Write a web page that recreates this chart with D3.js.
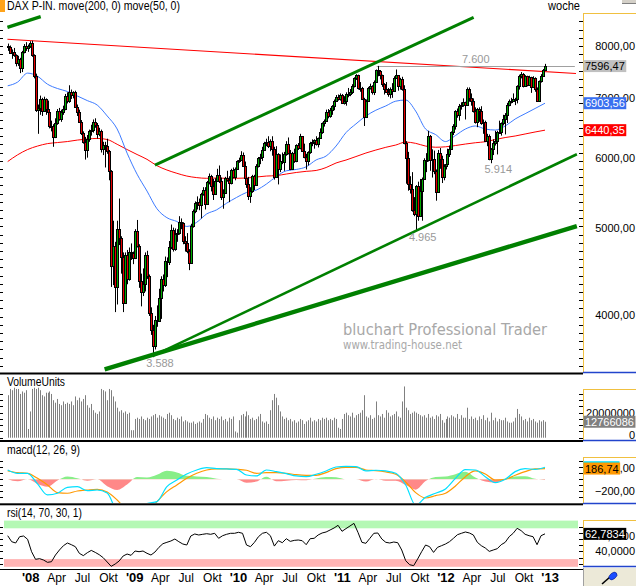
<!DOCTYPE html>
<html>
<head>
<meta charset="utf-8">
<script src="https://cdn.jsdelivr.net/npm/d3@7"></script>
<style>
  body { margin: 0; background: #fff; }
  svg { display: block; font-family: "Liberation Sans", Arial, sans-serif; }
</style>
</head>
<body>
<svg id="chart" width="636" height="586"></svg>
<script>
// weekly DAX candles, Oct 12 2007 .. Dec 14 2012 (one value per Friday)
var opens = [
  7990,7979,7860,7880,7810,7650,7740,7560,7870,8010,7950,8000,
  8067,7810,7410,6790,6820,6970,6770,6970,6810,6750,6510,6510,6320,6560,6770,6630,6750,6810,7040,6940,7100,7050,7100,6840,6750,6580,6390,6250,6120,6300,6420,6450,6580,6520,6370,6420,6130,6200,6190,6110,5800,4544,4780,4300,4990,4880,4640,4130,4670,4390,4700,4690,
  4630,4970,4784,4367,4240,4338,4666,4427,4018,3844,3695,3953,3940,4177,4384,4324,4597,4586,4770,4985,4738,4930,4941,5077,5070,4839,4820,4716,4576,5028,5229,5332,5355,5309,5462,5517,5328,5634,5717,5581,5468,5656,5737,5654,5415,5484,5687,5663,5614,5817,5710,5831,
  5946,5957,6037,5875,5695,5608,5434,5500,5722,5598,5877,5995,6017,6120,6236,6250,6180,6259,6135,5715,6056,5830,5946,5938,6049,6216,6070,5834,6066,5955,6194,6148,6336,6111,6006,5951,6081,6224,6243,6274,6212,6308,6402,6556,6601,6754,6683,6792,6848,6947,7006,6982,7057,
  6914,6947,7076,7062,7102,7216,7371,7426,7185,7178,6982,6664,6947,7180,7217,7110,7300,7514,7492,7418,7254,7164,7109,7069,7165,7121,7376,7419,7220,7344,7159,6236,5997,5602,5538,5246,5189,5574,5164,5502,5675,5967,5970,6346,5967,5986,5800,5493,6080,5986,5701,5878,
  5898,6057,6143,6404,6511,6766,6692,6849,6864,6921,6880,7157,6996,6947,6775,6583,6801,6761,6561,6579,6271,6340,5978,6130,6229,6263,6416,6410,6558,6630,6689,6865,6945,6944,6971,6970,7214,7412,7451,7216,7398,7233,7381,7204,7364,7163,6950,7309,7405,7518
];
var highs = [
  8050,8010,7930,7960,7830,7800,7760,7900,8040,8080,8030,8100,
  8110,7830,7450,6880,7040,7000,7020,6990,6950,6800,6600,6540,6640,6800,6820,6790,6860,7070,7100,7230,7150,7120,7130,6880,6790,6610,6420,6330,6360,6450,6530,6620,6640,6560,6480,6450,6250,6250,6300,6120,5810,5100,4830,5100,5400,4900,4700,4700,4730,4760,4810,4710,
  4990,5110,4800,4450,4510,4700,4720,4440,4080,3900,3990,4100,4280,4420,4440,4650,4640,4840,5050,5010,5000,4990,5160,5130,5080,4900,4940,4740,5060,5250,5360,5430,5400,5480,5560,5560,5650,5760,5740,5680,5690,5830,5880,5700,5530,5710,5800,5720,5830,5850,5850,5960,
  6000,6100,6080,5940,5750,5710,5560,5740,5740,5900,6010,6060,6170,6250,6300,6340,6290,6340,6170,6180,6070,6050,6080,6090,6260,6320,6120,6090,6140,6210,6230,6380,6340,6220,6060,6100,6250,6290,6290,6340,6320,6470,6570,6620,6790,6800,6820,6870,6970,7050,7060,7080,7070,
  7030,7100,7180,7160,7250,7380,7440,7430,7290,7200,7000,6970,7200,7260,7230,7320,7530,7600,7520,7430,7270,7290,7180,7190,7270,7400,7530,7420,7370,7390,7230,6260,6090,5720,5780,5420,5590,5640,5680,5700,5990,6070,6430,6360,6130,6110,5820,6120,6150,6030,5900,5960,
  6140,6190,6420,6540,6780,6810,6890,6920,6990,6930,7190,7190,7080,6990,6830,6820,6830,6850,6620,6600,6380,6370,6150,6290,6430,6430,6600,6570,6700,6730,6910,6970,7000,7080,7000,7230,7430,7480,7460,7420,7410,7410,7390,7400,7380,7190,7320,7440,7540,7640
];
var lows = [
  7900,7840,7740,7780,7590,7600,7460,7480,7850,7900,7880,7960,
  7780,7360,6750,6380,6700,6680,6750,6700,6700,6470,6420,6170,6310,6530,6600,6580,6700,6780,6900,6910,6980,6990,6820,6680,6560,6360,6220,5970,6000,6250,6350,6400,6480,6300,6340,6080,6040,5850,6060,5660,4300,4320,4030,4110,4790,4450,4030,4120,4330,4370,4610,4560,
  4620,4760,4290,4090,4200,4250,4390,3990,3800,3588,3660,3880,3930,3960,4250,4300,4410,4550,4740,4710,4720,4830,4920,4990,4800,4710,4690,4490,4570,5010,5200,5250,5240,5130,5440,5250,5320,5600,5500,5380,5460,5640,5620,5380,5260,5470,5640,5350,5600,5690,5660,5820,
  5920,5950,5860,5630,5550,5380,5340,5480,5520,5580,5850,5900,5950,6110,6180,6150,6100,6030,5670,5710,5600,5780,5900,5800,6030,6050,5810,5820,5920,5930,6120,6130,6090,5990,5820,5880,6060,6180,6140,6190,6160,6300,6380,6500,6580,6640,6650,6700,6780,6940,6950,6950,6900,
  6880,6860,7010,7030,7070,7190,7330,7150,7110,6960,6510,6650,6940,7150,7060,7050,7290,7400,7340,7200,7060,7090,7020,6990,7000,7110,7360,7130,7150,7130,6210,5610,5510,5470,5220,5160,4965,5100,5150,5100,5670,5780,5940,5800,5700,5750,5370,5480,5830,5620,5660,5820,
  5890,6010,6130,6360,6450,6650,6600,6790,6840,6620,6860,6930,6860,6740,6550,6490,6580,6530,6380,6260,6180,5960,5914,6040,6190,6050,6390,6350,6520,6370,6560,6850,6900,6930,6870,6900,7150,7360,7190,7200,7210,7220,7090,7190,7110,6930,6940,7280,7400,7500
];
var closes = [
  7979,7860,7880,7810,7650,7740,7560,7870,8010,7950,8000,8067,
  7810,7410,6790,6820,6970,6770,6970,6810,6750,6510,6510,6320,6560,6770,6630,6750,6810,7040,6940,7100,7050,7100,6840,6750,6580,6390,6250,6120,6300,6420,6450,6580,6520,6370,6420,6130,6200,6190,6110,5800,4544,4780,4300,4990,4880,4640,4130,4670,4390,4700,4690,4630,
  4970,4784,4367,4240,4338,4666,4427,4018,3844,3695,3953,3940,4177,4384,4324,4597,4586,4770,4985,4738,4930,4941,5077,5070,4839,4820,4716,4576,5028,5229,5332,5355,5309,5462,5517,5328,5634,5717,5581,5468,5656,5737,5654,5415,5484,5687,5663,5614,5817,5710,5831,5946,
  5957,6037,5875,5695,5608,5434,5500,5722,5598,5877,5995,6017,6120,6236,6250,6180,6259,6135,5715,6056,5830,5946,5938,6049,6216,6070,5834,6066,5955,6194,6148,6336,6111,6006,5951,6081,6224,6243,6274,6212,6308,6402,6556,6601,6754,6683,6792,6848,6947,7006,6982,7057,6914,
  6947,7076,7062,7102,7216,7371,7426,7185,7178,6982,6664,6947,7180,7217,7110,7300,7514,7492,7418,7254,7164,7109,7069,7165,7121,7376,7419,7220,7344,7159,6236,5997,5602,5538,5246,5189,5574,5164,5502,5675,5967,5970,6346,5967,5986,5800,5493,6080,5986,5701,5878,5898,
  6057,6143,6404,6511,6766,6692,6849,6864,6921,6880,7157,6996,6947,6775,6583,6801,6761,6561,6579,6271,6340,5978,6130,6229,6263,6416,6410,6558,6630,6689,6865,6945,6944,6971,6970,7214,7412,7451,7216,7398,7233,7381,7204,7364,7163,6950,7309,7405,7518,7596.47
];
// weekly volume, millions of units
var volumes = [
  34,39,38,40,39,39,35,37,36,38,7,21,
  39,40,39,40,38,34,33,36,36,37,35,30,28,31,27,26,29,27,28,27,29,26,33,30,32,29,31,34,26,24,27,22,20,19,21,39,38,37,30,39,38,33,29,24,21,22,20,21,19,20,6,6,
  15,16,15,17,15,14,16,15,17,18,19,16,18,17,16,15,19,20,18,15,14,16,15,17,13,14,13,12,12,13,11,12,13,12,15,19,18,16,15,17,14,16,15,17,14,15,13,16,15,17,5,4,
  14,18,19,17,21,18,15,16,14,15,17,19,13,12,13,11,22,30,35,32,26,21,17,15,16,14,15,13,14,12,13,15,14,11,13,14,16,13,14,13,15,14,16,15,16,14,15,14,16,15,8,7,15,
  19,20,18,17,20,16,18,19,20,22,34,17,16,18,15,16,29,18,17,19,16,22,20,17,18,19,21,17,16,29,41,24,22,19,20,21,20,19,18,17,18,16,19,16,17,15,18,17,19,14,12,15,
  17,16,18,17,16,19,15,18,16,16,24,15,17,15,16,14,17,15,18,14,16,13,20,14,16,13,15,14,14,16,13,12,12,13,16,23,19,17,14,15,13,16,14,15,13,12,14,13,14,12.766086
];

// moving averages, read every 5th week
var ma200 = [5940,6044,6127,6182,6221,6238,6254,6278,6295,6305,6287,6210,6127,6049,5974,5877,5812,5763,5722,5699,5689,5693,5689,5689,5693,5708,5722,5729,5752,5775,5792,5805,5849,5918,5963,6017,6072,6119,6162,6198,6246,6225,6182,6163,6170,6190,6214,6235,6251,6287,6319,6344,6377,6410,6440.35];
var ma50 = [7220,7290,7460,7400,7250,7170,7115,7033,6950,6870,6680,6460,6070,5750,5505,5260,5140,5090,5025,5080,5190,5245,5335,5415,5485,5520,5605,5715,5800,5820,5860,5965,6025,6182,6400,6545,6680,6780,6855,6940,6960,6765,6459,6368,6254,6352,6459,6510,6459,6442,6510,6628,6719,6810,6903.56];

// macd(12, 26, 9), read every 5th week
var macdLine = [162,104,104,-81,-272,-243,-139,-128,-197,-186,-240,-560,-640,-600,-420,-388,-128,-12,93,162,202,185,180,174,75,58,162,133,99,58,46,87,145,214,226,220,145,157,145,104,-99,-450,-313,-243,-168,17,168,162,46,-58,0,133,185,174,210];
var signalLine = [145,116,104,17,-99,-232,-243,-203,-186,-174,-221,-359,-540,-600,-560,-388,-215,-99,17,104,162,180,180,174,157,104,116,116,104,81,70,70,116,185,209,209,162,151,128,87,-46,-232,-325,-284,-243,-116,46,145,93,-12,0,70,133,180,186.74];
var macdHist = [0,-35,0,-80,-128,-20,50,20,-25,0,-120,-186,-90,40,30,80,150,120,60,50,40,10,0,0,-60,-40,45,-35,-25,-10,-15,15,40,35,0,0,-40,5,-25,-25,-100,-180,-30,40,50,90,130,30,-40,-60,0,50,55,10,-10];

// rsi(14), read every 2nd week
var rsi = [60.4,52.6,50.9,59.1,60.0,55.7,39.6,29.7,30.6,28.8,25.8,26.6,35.3,41.8,47.4,50.9,48.7,46.1,37.5,34.5,38.3,41.3,38.7,35.7,31.8,26.2,20.6,23.6,27.5,34.0,36.6,34.9,40.5,39.6,40.5,37.5,35.3,39.2,45.3,50.0,51.8,53.5,56.1,52.6,49.6,48.3,60.0,62.6,61.3,62.2,63.0,62.2,63.5,57.0,60.4,62.2,63.5,63.5,64.8,63.5,48.3,46.1,51.8,59.1,63.5,64.8,60.4,46.9,53.9,51.3,56.5,53.0,54.3,54.8,53.9,48.7,56.5,57.0,61.3,
  63.9,65.2,67.8,70.4,73.9,66.1,69.6,73.0,76.4,64.8,51.8,50.5,57.0,63.5,63.9,56.1,51.8,50.9,52.2,51.3,41.8,27.9,22.7,21.5,30.1,39.6,48.3,46.1,38.7,45.3,47.4,49.6,52.6,57.0,61.7,63.5,65.2,63.9,61.3,51.8,47.4,44.4,40.0,41.8,43.5,48.7,51.8,59.1,63.5,70.0,67.0,62.2,60.4,59.1,48.7,60.4,62.7834];

// drawn trend lines: start / end date and level
var trendFrom = ["2007-10-11", "2009-03-13", "2009-03-06", "2008-09-17"];
var trendTo = ["2008-02-05", "2012-04-07", "2013-04-05", "2013-04-05"];
var trendFromValue = [8395, 5887, 3600, 3477];
var trendToValue = [8627, 8614, 6052, 5030];
var resistFrom = ["2007-10-11", 8139];
var resistTo = ["2013-04-02", 7453];
var levelDates = ["2011-05-02", "2013-03-29"];
var levelValue = 7600;
var lowDates = ["2009-03-06", "2011-09-16", "2012-06-08"];
var lowValues = [3588, 4965, 5914];

var quarterNames = ["", "Apr", "Jul", "Okt"];

var svgWidth = 636, svgHeight = 586;
var plotRight = 583;

var parse = d3.timeParse("%Y-%m-%d");
var de = d3.formatLocale({decimal: ",", thousands: ".", grouping: [3], currency: ["", " €"]});
var fmt2 = de.format(".2f"), fmt4 = de.format(".4f"), fmtInt = de.format("d"), fmtK = de.format(",.0f");

var weeks = d3.timeFriday.range(new Date(2007, 9, 12), new Date(2012, 11, 15));
var n = Math.min(weeks.length, closes.length);
var bars = d3.range(n).map(function(i) {
  return {
    date: weeks[i],
    open: opens[i],
    close: closes[i],
    high: Math.max(highs[i], opens[i], closes[i]),
    low: Math.min(lows[i], opens[i], closes[i]),
    volume: volumes[i]
  };
});
var every5 = weeks.filter(function(d, i) { return i % 5 === 0; });
var every2 = weeks.filter(function(d, i) { return i % 2 === 0; });

var x = d3.scaleTime().domain([weeks[0], weeks[n - 1]]).range([7.7, 545]);
var yMain = d3.scaleLog().domain([4000, 8000]).range([315, 46]);
var yVol = d3.scaleLinear().domain([0, 20]).range([437.7, 412.7]);
var yMacd = d3.scaleLinear().domain([-200, 200]).range([490.8, 467.8]);
var yRsi = d3.scaleLinear().domain([30, 70]).range([559.1, 528.3]);

var svg = d3.select("#chart");
var defs = svg.append("defs");
function addClip(id, y0, y1) {
  defs.append("clipPath").attr("id", id).append("rect")
    .attr("x", 0).attr("y", y0).attr("width", plotRight).attr("height", y1 - y0);
}
addClip("clipMain", 0, 372);
addClip("clipVol", 374, 440);
addClip("clipMacdPos", 442, yMacd(0));
addClip("clipMacdNeg", yMacd(0), 503);
addClip("clipMacd", 442, 503);
addClip("clipRsi", 505, 568);

// ---------- main panel ----------
var main = svg.append("g").attr("clip-path", "url(#clipMain)");

main.append("text").attr("x", 343).attr("y", 335)
  .attr("font-family", "'DejaVu Sans', sans-serif").attr("font-size", 16)
  .attr("textLength", 204).attr("lengthAdjust", "spacingAndGlyphs")
  .attr("fill", "#a8a8a8").text("bluchart Professional Trader");
main.append("text").attr("x", 343).attr("y", 349)
  .attr("font-family", "'DejaVu Sans', sans-serif").attr("font-size", 11.5)
  .attr("textLength", 119).attr("lengthAdjust", "spacingAndGlyphs")
  .attr("fill", "#a8a8a8").text("www.trading-house.net");

var maLine = d3.line()
  .x(function(d) { return x(d.date); })
  .y(function(d) { return yMain(d.value); })
  .curve(d3.curveMonotoneX);
main.append("path")
  .datum(ma200.map(function(v, i) { return {date: every5[i], value: v}; }))
  .attr("d", maLine).attr("fill", "none").attr("stroke", "#ff0000").attr("stroke-width", 1);
main.append("path")
  .datum(ma50.map(function(v, i) { return {date: every5[i], value: v}; }))
  .attr("d", maLine).attr("fill", "none").attr("stroke", "#3d7bff").attr("stroke-width", 1);

// resistance and 7600 level
main.append("line")
  .attr("x1", x(parse(resistFrom[0]))).attr("y1", yMain(resistFrom[1]))
  .attr("x2", x(parse(resistTo[0]))).attr("y2", yMain(resistTo[1]))
  .attr("stroke", "#ff0000").attr("stroke-width", 1.1);
main.append("line")
  .attr("x1", x(parse(levelDates[0]))).attr("x2", x(parse(levelDates[1])))
  .attr("y1", Math.round(yMain(levelValue)) + 0.5).attr("y2", Math.round(yMain(levelValue)) + 0.5)
  .attr("stroke", "#a0a0a0").attr("stroke-width", 1);
main.append("text")
  .attr("x", (x(parse(levelDates[0])) + x(parse(levelDates[1]))) / 2)
  .attr("y", yMain(levelValue) - 3)
  .attr("text-anchor", "middle").attr("font-size", 11).attr("fill", "#999")
  .text(fmtK(levelValue));

// candles
var candle = main.selectAll("g.candle").data(bars).enter().append("g").attr("class", "candle");
candle.append("line")
  .attr("x1", function(d) { return Math.round(x(d.date)) + 0.5; })
  .attr("x2", function(d) { return Math.round(x(d.date)) + 0.5; })
  .attr("y1", function(d) { return yMain(d.high); })
  .attr("y2", function(d) { return yMain(d.low); })
  .attr("stroke", "#000").attr("stroke-width", 1);
candle.append("rect")
  .attr("x", function(d) { return Math.round(x(d.date)) - 0.5; })
  .attr("width", 2)
  .attr("y", function(d) { return Math.round(yMain(Math.max(d.open, d.close))) + 0.5; })
  .attr("height", function(d) {
    return Math.max(1, Math.round(yMain(Math.min(d.open, d.close))) - Math.round(yMain(Math.max(d.open, d.close))));
  })
  .attr("fill", function(d) { return d.close >= d.open ? "#00aa00" : "#e60000"; })
  .attr("stroke", "#000").attr("stroke-width", 1);

// trend lines
var trendWidth = [3.4, 3, 2.6, 4.4];
trendFrom.forEach(function(d, i) {
  main.append("line")
    .attr("x1", x(parse(d))).attr("y1", yMain(trendFromValue[i]))
    .attr("x2", x(parse(trendTo[i]))).attr("y2", yMain(trendToValue[i]))
    .attr("stroke", "#008000").attr("stroke-width", trendWidth[i]);
});

// low labels
lowDates.forEach(function(d, i) {
  main.append("text")
    .attr("x", x(parse(d)) + 7).attr("y", yMain(lowValues[i]) + 10)
    .attr("text-anchor", "middle").attr("font-size", 11).attr("fill", "#999")
    .text(fmtK(lowValues[i]));
});

// title
svg.append("rect").attr("x", 0).attr("y", 0).attr("width", 5).attr("height", 12).attr("fill", "#ffa31a");
svg.append("text").attr("x", 7).attr("y", 10).attr("font-size", 12)
  .attr("textLength", 173).attr("lengthAdjust", "spacingAndGlyphs")
  .text("DAX P-IN. move(200, 0) move(50, 0)");
svg.append("text").attr("x", 548).attr("y", 10).attr("font-size", 12)
  .attr("textLength", 32).attr("lengthAdjust", "spacingAndGlyphs").text("woche");
svg.append("rect").attr("x", 622).attr("y", 0).attr("width", 14).attr("height", 3.5).attr("fill", "#d4d0c8");
svg.append("line").attr("x1", 622).attr("x2", 636).attr("y1", 3.5).attr("y2", 3.5).attr("stroke", "#808080");

// ---------- volume ----------
var vol = svg.append("g").attr("clip-path", "url(#clipVol)");
vol.selectAll("rect").data(bars).enter().append("rect")
  .attr("x", function(d) { return Math.round(x(d.date)); })
  .attr("width", 1)
  .attr("y", function(d) { return yVol(d.volume); })
  .attr("height", function(d) { return yVol(0) - yVol(d.volume); })
  .attr("fill", "#808080");
svg.append("text").attr("x", 7).attr("y", 386).attr("font-size", 12)
  .attr("textLength", 58).attr("lengthAdjust", "spacingAndGlyphs").text("VolumeUnits");

// ---------- macd ----------
var macd = svg.append("g");
var histArea = d3.area()
  .x(function(d) { return x(d.date); })
  .y0(yMacd(0))
  .y1(function(d) { return yMacd(d.value); })
  .curve(d3.curveMonotoneX);
var histData = macdHist.map(function(v, i) { return {date: every5[i], value: v}; });
macd.append("path").datum(histData).attr("d", histArea)
  .attr("fill", "#88ee88").attr("clip-path", "url(#clipMacdPos)");
macd.append("path").datum(histData).attr("d", histArea)
  .attr("fill", "#ff8888").attr("clip-path", "url(#clipMacdNeg)");
var macdPath = d3.line()
  .x(function(d) { return x(d.date); })
  .y(function(d) { return yMacd(d.value); })
  .curve(d3.curveMonotoneX);
var macdG = macd.append("g").attr("clip-path", "url(#clipMacd)");
macdG.append("path").datum(signalLine.map(function(v, i) { return {date: every5[i], value: v}; }))
  .attr("d", macdPath).attr("fill", "none").attr("stroke", "#ff9900").attr("stroke-width", 1.2);
macdG.append("path").datum(macdLine.map(function(v, i) { return {date: every5[i], value: v}; }))
  .attr("d", macdPath).attr("fill", "none").attr("stroke", "#00e0ff").attr("stroke-width", 1.2);
svg.append("text").attr("x", 7).attr("y", 454).attr("font-size", 12)
  .attr("textLength", 73).attr("lengthAdjust", "spacingAndGlyphs").text("macd(12, 26, 9)");

// ---------- rsi ----------
var rsiG = svg.append("g").attr("clip-path", "url(#clipRsi)");
rsiG.append("rect").attr("x", 4).attr("width", 574)
  .attr("y", yRsi(80)).attr("height", yRsi(70) - yRsi(80)).attr("fill", "#b4f8b4");
rsiG.append("rect").attr("x", 4).attr("width", 574)
  .attr("y", yRsi(30)).attr("height", yRsi(20) - yRsi(30)).attr("fill", "#ffb4b4");
rsiG.append("path").datum(rsi.map(function(v, i) { return {date: every2[i], value: v}; }))
  .attr("d", d3.line().x(function(d) { return x(d.date); }).y(function(d) { return yRsi(d.value); }))
  .attr("fill", "none").attr("stroke", "#000").attr("stroke-width", 1);
svg.append("text").attr("x", 7).attr("y", 517).attr("font-size", 12)
  .attr("textLength", 75).attr("lengthAdjust", "spacingAndGlyphs").text("rsi(14, 70, 30, 1)");

// ---------- separators and value column ----------
[372.5, 440, 503.3].forEach(function(y) {
  svg.append("rect").attr("x", 0).attr("y", y).attr("width", plotRight).attr("height", 2).attr("fill", "#000");
});
svg.append("line").attr("x1", 0).attr("x2", plotRight).attr("y1", 569.5).attr("y2", 569.5).attr("stroke", "#000");

var boxes = [[13.5, 372.5], [389.5, 440.5], [457.5, 503.5], [520.5, 566.5]];
boxes.forEach(function(b) {
  svg.append("line").attr("x1", plotRight).attr("x2", svgWidth).attr("y1", b[0]).attr("y2", b[0]).attr("stroke", "#f0c040");
  svg.append("line").attr("x1", plotRight + 0.5).attr("x2", plotRight + 0.5).attr("y1", b[0]).attr("y2", b[1]).attr("stroke", "#f0c040");
  svg.append("line").attr("x1", plotRight).attr("x2", svgWidth).attr("y1", b[1]).attr("y2", b[1]).attr("stroke", "#2244cc").attr("stroke-width", 1.5);
});

function edgeTicks(top, bottom, anchor, step) {
  var ys = [];
  for (var y = anchor; y >= top; y -= step) ys.push(y);
  for (var y2 = anchor + step; y2 <= bottom; y2 += step) ys.push(y2);
  ys.forEach(function(y) {
    var yy = Math.round(y) + 0.5;
    svg.append("line").attr("x1", plotRight - 4).attr("x2", plotRight).attr("y1", yy).attr("y2", yy).attr("stroke", "#000");
    svg.append("line").attr("x1", 0).attr("x2", 3).attr("y1", yy).attr("y2", yy).attr("stroke", "#000");
  });
}
edgeTicks(15, 370, yMain(8000), 8.2);
edgeTicks(390, 439, yVol(0), yVol(0) - yVol(5));
edgeTicks(458, 502, yMacd(0), 6);
edgeTicks(521, 566, yRsi(40), 6.1);

function axisLabel(y, text) {
  svg.append("text").attr("x", 635).attr("y", y + 4).attr("text-anchor", "end")
    .attr("font-size", 11).text(text);
}
[8000, 7000, 6000, 5000, 4000].forEach(function(v) { axisLabel(yMain(v), fmt2(v)); });
axisLabel(yVol(20), fmtInt(20e6));
axisLabel(Math.min(yVol(0), 434.5), "0");
axisLabel(yMacd(200), fmt2(200));
axisLabel(yMacd(-200), fmt2(-200));
axisLabel(yRsi(60), fmt4(60));
axisLabel(yRsi(40), fmt4(40));

function valueBox(y, text, fill, color) {
  var g = svg.append("g");
  var t = g.append("text").attr("x", 585).attr("y", y + 4).attr("font-size", 11).attr("fill", color).text(text);
  var w = t.node().getComputedTextLength();
  g.insert("rect", "text").attr("x", 583.5).attr("y", y - 6).attr("width", w + 3).attr("height", 12).attr("fill", fill);
  return w;
}
var last = bars[n - 1];
valueBox(yMain(last.close), fmt2(last.close), "#c0c0c0", "#000");
valueBox(yMain(ma50[ma50.length - 1]), fmt2(ma50[ma50.length - 1]), "#3a70f0", "#fff");
valueBox(yMain(ma200[ma200.length - 1]), fmt2(ma200[ma200.length - 1]), "#ff0000", "#fff");
valueBox(yVol(last.volume), fmtInt(last.volume * 1e6), "#808080", "#fff");
// the macd value box sits just behind the signal box; only its cyan edge shows
var signalText = fmt2(signalLine[signalLine.length - 1]);
var macdY = yMacd(macdLine[macdLine.length - 1]);
svg.append("rect").attr("x", 583.5).attr("y", macdY - 6).attr("width", 36).attr("height", 12).attr("fill", "#00e0ff");
valueBox(yMacd(signalLine[signalLine.length - 1]), signalText, "#ff9900", "#000");
valueBox(yRsi(rsi[rsi.length - 1]), fmt4(rsi[rsi.length - 1]), "#000", "#fff");

// ---------- time axis ----------
var quarterTicks = d3.timeMonth.every(3).range(new Date(2008, 0, 1), new Date(2013, 0, 2));
svg.selectAll("text.xlab").data(quarterTicks).enter().append("text")
  .attr("class", "xlab")
  .attr("x", function(d) { return x(d); })
  .attr("y", 582)
  .attr("text-anchor", "middle")
  .attr("font-size", function(d) { return d.getMonth() === 0 ? 13 : 12; })
  .attr("font-weight", function(d) { return d.getMonth() === 0 ? "bold" : "normal"; })
  .text(function(d) {
    return d.getMonth() === 0 ? "'" + d3.timeFormat("%y")(d) : quarterNames[d.getMonth() / 3];
  });

// pin button
svg.append("rect").attr("x", plotRight).attr("y", 568).attr("width", svgWidth - plotRight).attr("height", 18).attr("fill", "#ece9d8");
svg.append("line").attr("x1", plotRight + 0.5).attr("x2", plotRight + 0.5).attr("y1", 568).attr("y2", 586).attr("stroke", "#a0a0a0");
svg.append("line").attr("x1", 602).attr("y1", 584).attr("x2", 610).attr("y2", 577).attr("stroke", "#000").attr("stroke-width", 1.6);
svg.append("ellipse").attr("cx", 613).attr("cy", 576).attr("rx", 4.5).attr("ry", 3)
  .attr("transform", "rotate(-40 613 576)").attr("fill", "#1a4dff").attr("stroke", "#0a2090").attr("stroke-width", 0.6);
</script>
</body>
</html>
